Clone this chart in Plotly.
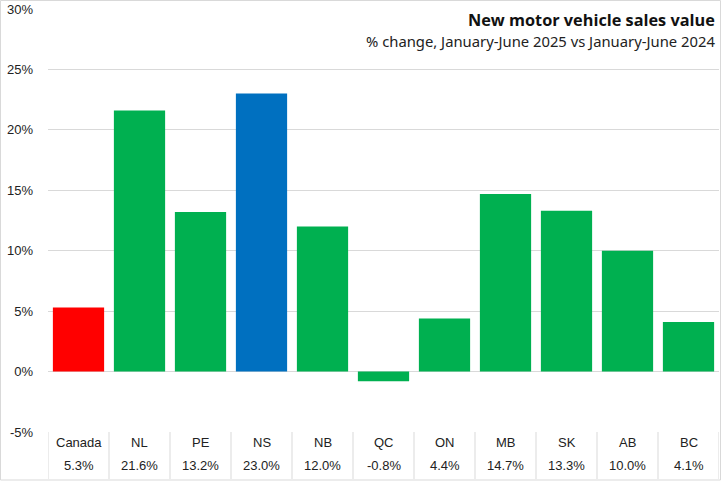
import plotly.graph_objects as go

regions = ["Canada", "NL", "PE", "NS", "NB", "QC", "ON", "MB", "SK", "AB", "BC"]
values = [5.3, 21.6, 13.2, 23.0, 12.0, -0.8, 4.4, 14.7, 13.3, 10.0, 4.1]
colors = ["#FF0000", "#00B050", "#00B050", "#0070C0", "#00B050", "#00B050",
          "#00B050", "#00B050", "#00B050", "#00B050", "#00B050"]
value_labels = [f"{v:.1f}%" for v in values]
ytick_vals = [-5, 0, 5, 10, 15, 20, 25, 30]
ytick_text = [f"{v}%" for v in ytick_vals]
title = "<b>New motor vehicle sales value</b>"
subtitle = "% change, January-June 2025 vs January-June 2024"

W, H = 721, 481
ML, MR, MT, MB = 48, 2, 9, 49
pw, ph = W - ML - MR, H - MT - MB

def py(p):  # pixel y -> paper y
    return (H - MB - p) / ph

def px(p):  # pixel x -> paper x
    return (p - ML) / pw

xs = list(range(len(regions)))
fig = go.Figure(go.Bar(x=xs, y=values, marker_color=colors, marker_line_width=0,
                       hoverinfo="skip"))

shapes = []
grid = "#D9D9D9"
for i in range(len(regions) + 1):
    shapes.append(dict(type="line", xref="x", yref="paper", x0=i - 0.5, x1=i - 0.5,
                       y0=0, y1=py(479), line=dict(color=grid, width=1)))
# outer chart border
shapes.append(dict(type="rect", xref="paper", yref="paper", x0=px(0.5), x1=px(W - 0.5),
                   y0=py(0.5), y1=py(H - 1), line=dict(color=grid, width=1)))

annotations = []
for i, (r, lab) in enumerate(zip(regions, value_labels)):
    annotations.append(dict(x=i, y=py(442), xref="x", yref="paper", text=r, showarrow=False,
                            font=dict(family="Liberation Sans", size=13, color="#222"),
                            yanchor="middle"))
    annotations.append(dict(x=i, y=py(466), xref="x", yref="paper", text=lab, showarrow=False,
                            font=dict(family="Liberation Sans", size=13, color="#222"),
                            yanchor="middle"))
annotations.append(dict(x=px(717), y=py(20), xref="paper", yref="paper", text=title,
                        showarrow=False, xanchor="right", yanchor="middle",
                        font=dict(family="Open Sans", size=16.3, color="#111")))
annotations.append(dict(x=px(717), y=py(41), xref="paper", yref="paper", text=subtitle,
                        showarrow=False, xanchor="right", yanchor="middle",
                        font=dict(family="Noto Sans", size=14.8, color="#222")))

fig.update_layout(
    width=W, height=H,
    margin=dict(l=ML, r=MR, t=MT, b=MB, pad=0),
    paper_bgcolor="white", plot_bgcolor="white",
    bargap=0.16, showlegend=False,
    xaxis=dict(range=[-0.5, len(regions) - 0.5], showticklabels=False, showgrid=False,
               zeroline=False, showline=False, fixedrange=True),
    yaxis=dict(range=[-5, 30], tickvals=ytick_vals, ticktext=ytick_text,
               showgrid=True, gridcolor=grid, gridwidth=1, zeroline=True,
               zerolinecolor=grid, zerolinewidth=1, showline=False,
               ticklabelstandoff=14,
               tickfont=dict(family="Liberation Sans", size=13, color="#222")),
    shapes=shapes, annotations=annotations,
)
fig.write_html("out.html", config={"displayModeBar": False},
               post_script="document.body.style.margin='0';document.body.style.overflow='hidden';")
